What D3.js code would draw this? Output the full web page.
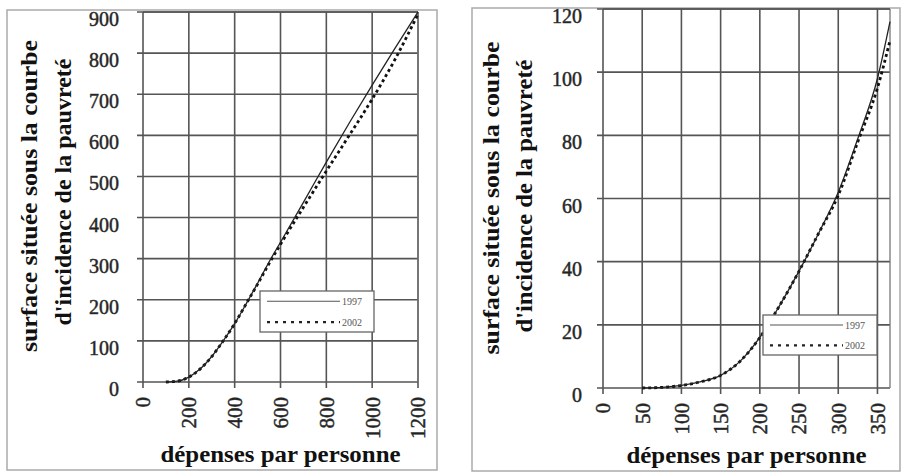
<!DOCTYPE html>
<html><head><meta charset="utf-8">
<script src="https://cdn.jsdelivr.net/npm/d3@7"></script>
<style>body{margin:0;background:#fff}svg{display:block}</style>
</head><body>
<svg id="c" width="901" height="473"></svg>
<script>
// ---- data ----
const seriesNames = ["1997", "2002"];
const leftX1997 = [100,150,200,250,300,350,400,450,500,550,600,700,800,900,1000,1100,1200];
const leftY1997 = [0,2,12,32,62,100,142,190,240,292,340,437,535,630,722,812,900];
const leftX2002 = [100,150,200,250,300,350,400,450,500,550,600,700,800,900,1000,1100,1200];
const leftY2002 = [0,2,12,32,62,100,142,190,238,288,335,425,513,600,688,785,895];
const leftXTicks = [0,200,400,600,800,1000,1200];
const leftYTicks = [0,100,200,300,400,500,600,700,800,900];

const rightX1997 = [50,75,100,125,150,175,200,225,250,275,300,325,350,366];
const rightY1997 = [0,0.2,0.8,2,4,8.5,16,26,37,49,62,79,98,116];
const rightX2002 = [50,75,100,125,150,175,200,225,250,275,300,325,350,366];
const rightY2002 = [0,0.2,0.8,2,4,8.5,16,26,37,49,61,78,95,110];
const rightXTicks = [0,50,100,150,200,250,300,350];
const rightYTicks = [0,20,40,60,80,100,120];

const yTitle1 = "surface située sous la courbe";
const yTitle2 = "d'incidence de la pauvreté";
const xTitle = "dépenses par personne";

const svg = d3.select("#c");
const FONT = "'Liberation Serif','Times New Roman',serif";

function panel(cfg) {
  const g = svg.append("g");
  g.append("rect").attr("x", cfg.frame[0]).attr("y", cfg.frame[1])
    .attr("width", cfg.frame[2]-cfg.frame[0]).attr("height", cfg.frame[3]-cfg.frame[1])
    .attr("fill", "none").attr("stroke", "#aaa").attr("stroke-width", 1.5);

  const x = d3.scaleLinear().domain(cfg.xDomain).range([cfg.px0, cfg.px1]);
  const y = d3.scaleLinear().domain(cfg.yDomain).range([cfg.py0, cfg.py1]);

  g.append("g").selectAll("line").data(cfg.yTicks).join("line")
    .attr("x1", cfg.px0 - 6).attr("x2", cfg.px1)
    .attr("y1", d => y(d)).attr("y2", d => y(d))
    .attr("stroke", "#555").attr("stroke-width", 1.6);
  g.append("g").selectAll("line").data(cfg.xTicks).join("line")
    .attr("x1", d => x(d)).attr("x2", d => x(d))
    .attr("y1", cfg.py1).attr("y2", cfg.py0 + 6)
    .attr("stroke", "#555").attr("stroke-width", 1.6);
  g.append("line").attr("x1", cfg.px1).attr("x2", cfg.px1).attr("y1", cfg.py1).attr("y2", cfg.py0)
    .attr("stroke", "#777").attr("stroke-width", 1.3);
  g.append("line").attr("x1", cfg.px0).attr("x2", cfg.px1).attr("y1", cfg.py1).attr("y2", cfg.py1)
    .attr("stroke", "#555").attr("stroke-width", 1.6);

  g.append("g").selectAll("text").data(cfg.yTicks).join("text")
    .attr("x", cfg.px0 - cfg.yLabGap).attr("y", d => y(d) + 14)
    .attr("text-anchor", "end").attr("font-family", FONT).attr("font-size", 20)
    .attr("fill", "#222").attr("stroke", "#333").attr("stroke-width", 0.5).text(d => d);
  g.append("g").selectAll("text").data(cfg.xTicks).join("text")
    .attr("transform", d => `translate(${x(d)},${cfg.py0 + 15}) rotate(-90)`)
    .attr("text-anchor", "end").attr("dy", "0.35em")
    .attr("font-family", FONT).attr("font-size", 21)
    .attr("fill", "#222").attr("stroke", "#333").attr("stroke-width", 0.5).text(d => d);

  const line = d3.line().x(d => x(d[0])).y(d => y(d[1])).curve(d3.curveMonotoneX);
  const d97 = cfg.x97.map((v, i) => [v, cfg.y97[i]]);
  const d02 = cfg.x02.map((v, i) => [v, cfg.y02[i]]);
  g.append("path").datum(d02).attr("d", line).attr("fill", "none")
    .attr("stroke", "#111").attr("stroke-width", 2.8).attr("stroke-dasharray", "3,3");
  g.append("path").datum(d97).attr("d", line).attr("fill", "none")
    .attr("stroke", "#222").attr("stroke-width", 1.3);

  const L = cfg.legend;
  const lg = g.append("g");
  lg.append("rect").attr("x", L[0]).attr("y", L[1]).attr("width", L[2]).attr("height", L[3])
    .attr("fill", "#fff").attr("stroke", "#666").attr("stroke-width", 1.3);
  seriesNames.forEach((name, i) => {
    const yy = L[1] + (i === 0 ? 0.25 : 0.76) * L[3];
    lg.append("line").attr("x1", L[0] + 7).attr("x2", L[0] + L[2] - 34).attr("y1", yy).attr("y2", yy)
      .attr("stroke", i === 0 ? "#555" : "#222")
      .attr("stroke-width", i === 0 ? 1.2 : 2.4)
      .attr("stroke-dasharray", i === 0 ? null : "3,5");
    lg.append("text").attr("x", L[0] + L[2] - 32).attr("y", yy + 3.5)
      .attr("font-family", FONT).attr("font-size", 10).attr("fill", "#555").text(name);
  });

  const mid = (cfg.px0 + cfg.px1) / 2;
  g.append("text").attr("x", mid).attr("y", cfg.xTitleY).attr("text-anchor", "middle")
    .attr("font-family", FONT).attr("font-weight", "bold").attr("font-size", 23)
    .attr("textLength", cfg.xTitleLen).attr("lengthAdjust", "spacingAndGlyphs")
    .attr("fill", "#111").text(xTitle);
  g.append("text").attr("transform", `translate(${cfg.yT1[0]},${cfg.yT1[1]}) rotate(-90)`)
    .attr("text-anchor", "middle").attr("font-family", FONT).attr("font-weight", "bold")
    .attr("font-size", 23).attr("textLength", cfg.yT1[2]).attr("lengthAdjust", "spacingAndGlyphs")
    .attr("fill", "#111").text(yTitle1);
  g.append("text").attr("transform", `translate(${cfg.yT2[0]},${cfg.yT2[1]}) rotate(-90)`)
    .attr("text-anchor", "middle").attr("font-family", FONT).attr("font-weight", "bold")
    .attr("font-size", 23).attr("textLength", cfg.yT2[2]).attr("lengthAdjust", "spacingAndGlyphs")
    .attr("fill", "#111").text(yTitle2);
}

panel({
  frame: [7, 10, 437, 470],
  xDomain: [0, 1200], yDomain: [0, 900],
  px0: 143, px1: 418, py0: 382, py1: 12,
  xTicks: leftXTicks, yTicks: leftYTicks, yLabGap: 24,
  x97: leftX1997, y97: leftY1997, x02: leftX2002, y02: leftY2002,
  legend: [260, 291, 114, 41],
  xTitleY: 462, xTitleLen: 240,
  yT1: [37, 196, 312], yT2: [71, 192, 267]
});

panel({
  frame: [472, 8, 900, 471],
  xDomain: [0, 366], yDomain: [0, 120],
  px0: 603, px1: 890, py0: 388, py1: 9,
  xTicks: rightXTicks, yTicks: rightYTicks, yLabGap: 21,
  x97: rightX1997, y97: rightY1997, x02: rightX2002, y02: rightY2002,
  legend: [763, 315, 114, 40],
  xTitleY: 463, xTitleLen: 240,
  yT1: [499, 198, 313], yT2: [532, 196, 273]
});
</script>
</body></html>
